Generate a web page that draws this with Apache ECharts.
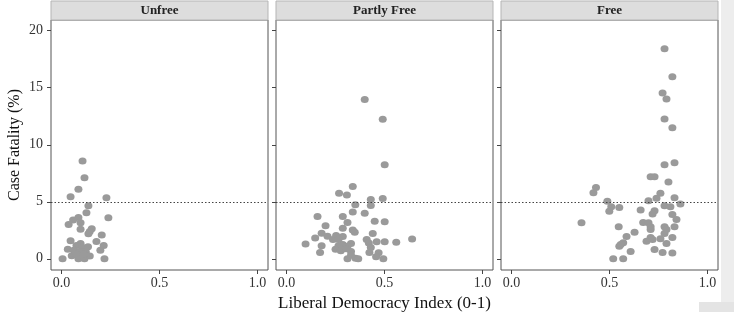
<!DOCTYPE html>
<html>
<head>
<meta charset="utf-8">
<script src="https://cdn.jsdelivr.net/npm/echarts@6/dist/echarts.min.js"></script>
<style>
html, body { margin: 0; padding: 0; background: #fff; }
#chart { width: 734px; height: 312px; }
</style>
</head>
<body>
<div id="chart"></div>
<script>
// facet labels, ticks and the 5% reference line
const panels = ['Unfree', 'Partly Free', 'Free'];
const xTicks = [0, 0.5, 1];
const yTicks = [0, 5, 10, 15, 20];
const threshold = 5;

// [liberal democracy index, case fatality %]
const unfree = [
  [0.107, 8.57], [0.117, 7.1], [0.086, 6.1], [0.046, 5.44], [0.229, 5.35],
  [0.137, 4.65], [0.127, 4.04], [0.239, 3.6], [0.086, 3.63], [0.059, 3.4],
  [0.097, 3.16], [0.036, 3.0], [0.097, 2.6], [0.154, 2.63], [0.144, 2.4],
  [0.137, 2.2], [0.205, 2.08], [0.178, 1.52], [0.046, 1.58], [0.097, 1.35],
  [0.076, 1.17], [0.215, 1.17], [0.032, 0.85], [0.063, 0.76], [0.107, 1.0],
  [0.135, 1.05], [0.198, 0.76], [0.09, 0.65], [0.124, 0.59], [0.052, 0.26],
  [0.079, 0.35], [0.103, 0.18], [0.144, 0.24], [0.005, 0.0], [0.219, 0.0],
  [0.086, 0.0], [0.117, 0.0], [0.073, 0.47], [0.113, 0.41]
];
const partlyFree = [
  [0.399, 13.98], [0.491, 12.23], [0.501, 8.25], [0.338, 6.35], [0.268, 5.76],
  [0.308, 5.59], [0.43, 5.21], [0.491, 5.3], [0.43, 4.68], [0.351, 4.74],
  [0.338, 4.1], [0.399, 4.0], [0.158, 3.72], [0.287, 3.72], [0.311, 3.19],
  [0.45, 3.3], [0.501, 3.25], [0.199, 2.9], [0.287, 2.69], [0.338, 2.52],
  [0.348, 2.34], [0.179, 2.25], [0.44, 2.23], [0.146, 1.82], [0.209, 1.99],
  [0.253, 2.05], [0.287, 1.96], [0.237, 1.7], [0.265, 1.7], [0.409, 1.7],
  [0.097, 1.29], [0.179, 1.14], [0.42, 1.38], [0.46, 1.49], [0.501, 1.49],
  [0.56, 1.46], [0.641, 1.73], [0.329, 1.35], [0.287, 1.26], [0.265, 1.14],
  [0.311, 1.11], [0.25, 0.85], [0.277, 0.7], [0.304, 0.88], [0.43, 1.0],
  [0.171, 0.56], [0.329, 0.65], [0.423, 0.56], [0.47, 0.53], [0.311, 0.0],
  [0.352, 0.06], [0.366, 0.0], [0.457, 0.18], [0.494, 0.0], [0.329, 0.32]
];
const free = [
  [0.781, 18.42], [0.821, 15.96], [0.771, 14.54], [0.791, 14.01], [0.781, 12.25],
  [0.821, 11.49], [0.781, 8.25], [0.832, 8.42], [0.71, 7.19], [0.73, 7.19],
  [0.801, 6.73], [0.431, 6.26], [0.418, 5.79], [0.76, 5.74], [0.74, 5.32],
  [0.832, 5.35], [0.699, 5.09], [0.489, 5.04], [0.862, 4.8], [0.781, 4.65],
  [0.811, 4.56], [0.509, 4.56], [0.55, 4.5], [0.499, 4.18], [0.659, 4.27],
  [0.73, 4.21], [0.72, 3.92], [0.821, 3.89], [0.842, 3.45], [0.357, 3.16],
  [0.672, 3.19], [0.699, 3.16], [0.71, 2.81], [0.547, 2.81], [0.781, 2.81],
  [0.832, 2.81], [0.71, 2.58], [0.791, 2.58], [0.781, 2.23], [0.628, 2.32],
  [0.587, 1.96], [0.71, 1.88], [0.76, 1.75], [0.821, 1.88], [0.689, 1.53],
  [0.72, 1.7], [0.57, 1.41], [0.791, 1.35], [0.55, 1.11], [0.608, 0.65],
  [0.73, 0.82], [0.771, 0.56], [0.821, 0.5], [0.519, 0.0], [0.57, 0.0],
  [0.557, 1.26]
];
const panelData = [unfree, partlyFree, free];

const serif = '"Liberation Serif", "DejaVu Serif", serif';
const panelLefts = [51, 276, 501];
const panelWidth = 217;
const panelTop = 20;
const panelHeight = 250;
const xMin = -0.054, xMax = 1.054;
const yMin = -0.98, yMax = 20.94;

const grids = panelLefts.map(left => ({
  left: left,
  top: panelTop,
  width: panelWidth,
  height: panelHeight,
  outerBoundsMode: 'none',
  containLabel: false,
  show: true,
  backgroundColor: '#fff',
  borderColor: '#555',
  borderWidth: 1
}));

const xAxes = panels.map((p, i) => ({
  type: 'value',
  gridIndex: i,
  position: 'bottom',
  min: xMin,
  max: xMax,
  name: i === 1 ? 'Liberal Democracy Index (0-1)' : '',
  nameLocation: 'middle',
  nameGap: 21,
  nameTextStyle: { fontFamily: serif, fontSize: 17, color: '#111' },
  axisLine: { show: false, onZero: false },
  axisTick: { show: true, length: 4, customValues: xTicks, lineStyle: { color: '#444' } },
  axisLabel: {
    customValues: xTicks,
    formatter: v => v.toFixed(1),
    fontFamily: serif, fontSize: 14, color: '#333', margin: 6
  },
  splitLine: { show: false }
}));

const yAxes = panels.map((p, i) => ({
  type: 'value',
  gridIndex: i,
  position: 'left',
  min: yMin,
  max: yMax,
  name: i === 0 ? 'Case Fatality (%)' : '',
  nameLocation: 'middle',
  nameGap: 28,
  nameTextStyle: { fontFamily: serif, fontSize: 16, color: '#111' },
  axisLine: { show: false, onZero: false },
  axisTick: { show: true, length: 4, customValues: yTicks, lineStyle: { color: '#444' } },
  axisLabel: {
    show: i === 0,
    customValues: yTicks,
    fontFamily: serif, fontSize: 14, color: '#333', margin: 8
  },
  splitLine: { show: false }
}));

const series = panelData.map((d, i) => ({
  type: 'scatter',
  name: panels[i],
  xAxisIndex: i,
  yAxisIndex: i,
  data: d,
  symbolSize: [8, 7],
  itemStyle: { color: '#9a9a9a', opacity: 1 },
  markLine: {
    silent: true,
    symbol: ['none', 'none'],
    label: { show: false },
    lineStyle: { type: [1.5, 2], color: '#444', width: 1 },
    data: [[{ coord: [xMin, threshold] }, { coord: [xMax, threshold] }]]
  }
}));

// facet strips and the grey margin on the right of the scan
const graphics = [];
panelLefts.forEach((left, i) => {
  graphics.push({
    type: 'rect',
    shape: { x: left, y: 1, width: panelWidth, height: panelTop - 1 },
    style: { fill: '#dddddd', stroke: '#b5b5b5', lineWidth: 1 },
    z: 10
  });
  graphics.push({
    type: 'text',
    x: left + panelWidth / 2,
    y: 10.5,
    style: {
      text: panels[i],
      textAlign: 'center',
      textVerticalAlign: 'middle',
      font: 'bold 13px ' + serif,
      fill: '#222'
    },
    z: 11
  });
});
graphics.push({
  type: 'rect',
  shape: { x: 721, y: 0, width: 13, height: 312 },
  style: { fill: '#ededed' },
  z: 1
});
graphics.push({
  type: 'rect',
  shape: { x: 699, y: 302, width: 35, height: 10 },
  style: { fill: '#e4e4e4' },
  z: 1
});

const chart = echarts.init(document.getElementById('chart'));
chart.setOption({
  animation: false,
  backgroundColor: '#fff',
  grid: grids,
  xAxis: xAxes,
  yAxis: yAxes,
  series: series,
  graphic: graphics
});
</script>
</body>
</html>
